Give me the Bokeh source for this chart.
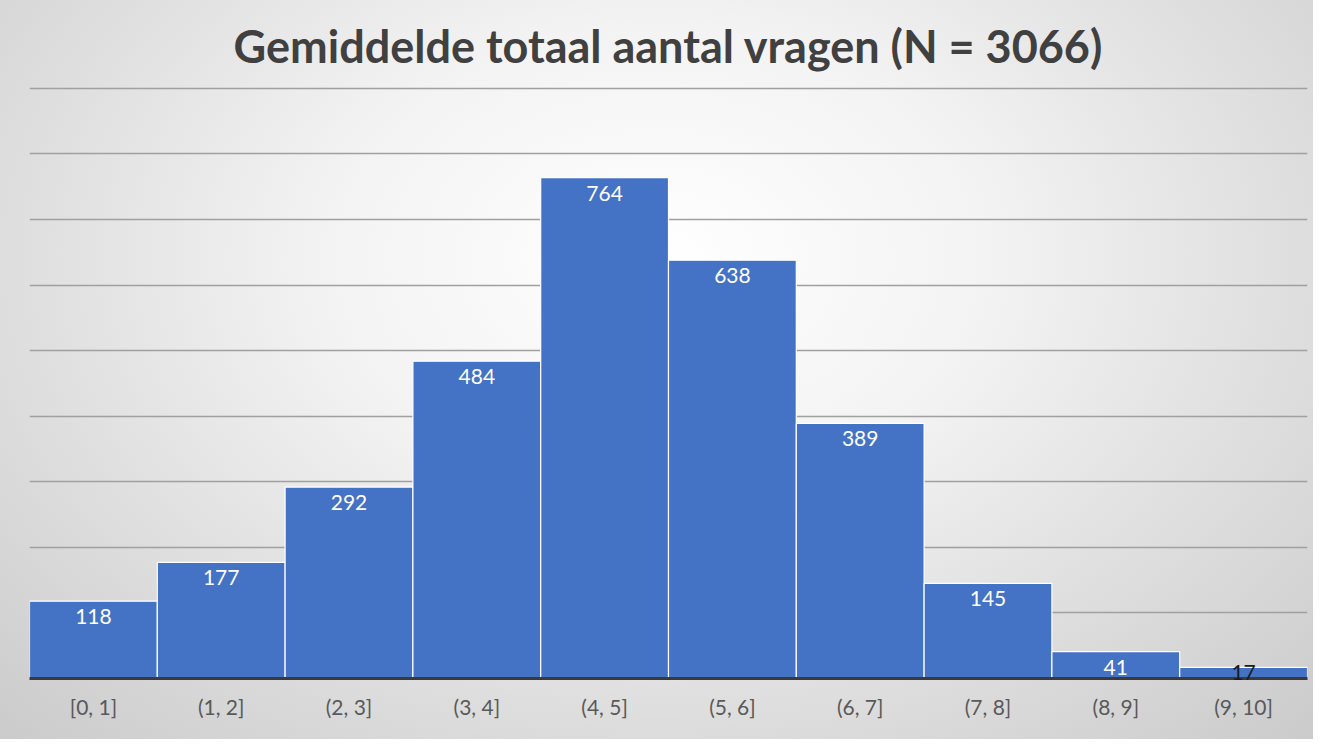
from bokeh.plotting import figure
from bokeh.models import ColumnDataSource, FixedTicker
from bokeh.core.properties import value
from bokeh.embed import file_html
from bokeh.resources import INLINE

# data
categories = ["[0, 1]", "(1, 2]", "(2, 3]", "(3, 4]", "(4, 5]",
              "(5, 6]", "(6, 7]", "(7, 8]", "(8, 9]", "(9, 10]"]
counts = [118, 177, 292, 484, 764, 638, 389, 145, 41, 17]
title_text = "Gemiddelde totaal aantal vragen (N = 3066)"
grid_values = [100, 200, 300, 400, 500, 600, 700, 800, 900]

FONT = "Lato"
BAR = "#4472C4"

big = [c for c in counts if c >= 30]
big_cat = [categories[i] for i, c in enumerate(counts) if c >= 30]
small = [c for c in counts if c < 30]
small_cat = [categories[i] for i, c in enumerate(counts) if c < 30]

p = figure(x_range=categories, y_range=(0, 906), width=1313, height=739,
           output_backend="svg", toolbar_location=None,
           min_border_left=29, min_border_right=6, min_border_top=84,
           min_border_bottom=61)

p.styles = {"background-image": "radial-gradient(ellipse 72% 90% at 50% 35%, #ffffff 0%, #f3f3f3 35%, #e0e0e0 65%, #cbcbcb 100%)"}
p.background_fill_color = None
p.border_fill_color = None
p.outline_line_color = None

p.title.text = title_text
p.title.align = "center"
p.title.text_font = FONT
p.title.text_font_size = "45px"
p.title.text_font_style = "bold"
p.title.text_color = "#404040"
p.title.standoff = 24

src = ColumnDataSource(dict(cat=categories, n=counts))
p.vbar(x="cat", top="n", width=1.0, source=src, fill_color=BAR,
       line_color="white", line_width=1.2)

p.text(x=big_cat, y=big, text=[str(v) for v in big], text_align="center",
       text_baseline="top", y_offset=8, text_color="white",
       text_font=value(FONT), text_font_size="21px")
p.text(x=small_cat, y=[0] * len(small), text=[str(v) for v in small],
       text_align="center", text_baseline="bottom", y_offset=1,
       text_color="#1a1a1a", text_font=value(FONT), text_font_size="21px",
       level="overlay")

p.xgrid.visible = False
p.ygrid.ticker = FixedTicker(ticks=grid_values)
p.ygrid.grid_line_color = "#a0a0a0"
p.ygrid.grid_line_width = 1.5
p.ygrid.level = "underlay"
p.yaxis.visible = False

p.xaxis.axis_line_color = "#3a3a3a"
p.xaxis.axis_line_width = 3
p.xaxis.major_tick_line_color = None
p.xaxis.minor_tick_line_color = None
p.xaxis.major_label_text_font = FONT
p.xaxis.major_label_text_font_size = "21px"
p.xaxis.major_label_text_color = "#595959"
p.xaxis.major_label_standoff = 9

open("out.html", "w").write(file_html(p, INLINE))
